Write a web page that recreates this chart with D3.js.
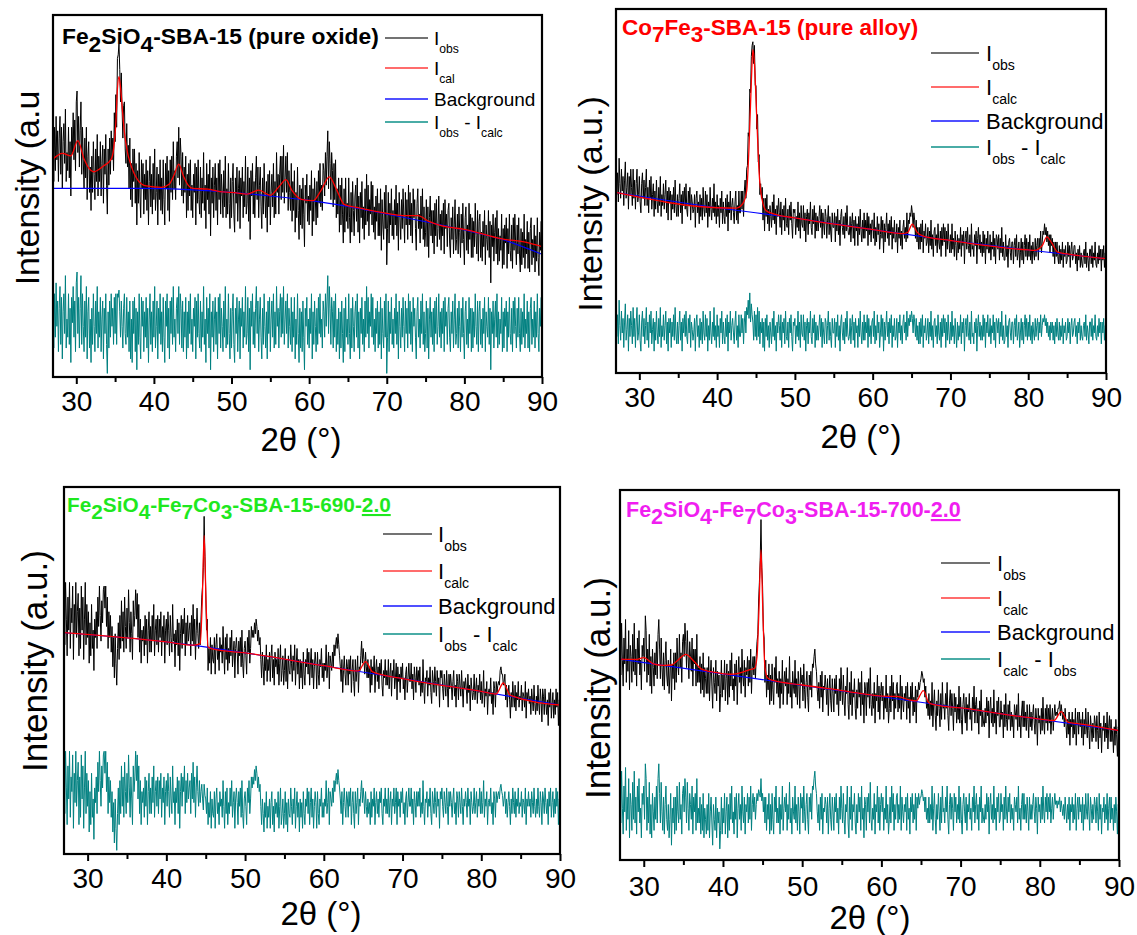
<!DOCTYPE html>
<html>
<head>
<meta charset="utf-8">
<script src="https://cdn.jsdelivr.net/npm/d3@7"></script>
<style>
  body { margin: 0; background: #fff; }
  svg { display: block; }
  text { font-family: "Liberation Sans", Arial, Helvetica, sans-serif; white-space: pre; }
</style>
</head>
<body>
<svg id="chart" width="1137" height="935"></svg>
<script>
// ---- shared axis data -------------------------------------------------
const twoThetaDomain = [27, 90];
const scanStart = 27;          // first 2θ of every scan
const scanStep = 0.1;          // 2θ step between scan points (one row below = 1°)
const xTicks = [30, 40, 50, 60, 70, 80, 90];
const xMinorTicks = [35, 45, 55, 65, 75, 85];

// ---- Fe2SiO4-SBA-15 (pure oxide) --------------------------------------
const oxideObs = [
63,54,69,57,72,60,68,54,66,72, 56,69,52,65,70,59,74,54,62,57,
69,55,65,50,69,62,73,60,71,57, 76,79,62,72,58,68,76,56,69,60,
52,66,55,69,49,61,65,51,58,46, 61,51,65,56,49,63,54,67,50,61,
54,65,50,59,64,48,63,56,67,53, 45,63,53,66,56,68,60,66,57,73,
65,78,69,88,89,92,85,76,84,74, 66,75,76,63,59,70,58,64,52,66,
49,59,47,63,54,63,48,59,42,57, 48,62,50,44,60,52,59,45,56,49,
60,46,57,42,54,61,47,56,45,59, 49,63,46,51,58,42,56,49,60,46,
55,45,60,49,42,59,52,61,46,57, 43,60,51,61,49,65,52,57,49,61,
65,55,69,53,66,61,50,62,48,58, 51,61,44,56,46,59,50,60,46,53,
44,56,51,59,42,58,48,60,49,45, 58,44,55,48,62,46,53,41,59,49,
56,45,60,39,55,48,58,44,53,59, 46,55,42,59,49,60,45,56,51,44,
57,47,61,44,52,45,59,48,41,55, 44,54,59,45,40,55,48,58,43,52,
57,41,55,50,58,44,54,47,61,45, 48,58,43,55,38,57,50,59,45,54,
44,55,61,49,58,44,53,58,47,41, 55,45,59,50,44,54,40,56,47,57,
42,51,56,47,59,44,54,45,62,51, 56,45,56,61,49,61,51,64,48,55,
61,51,62,46,57,51,46,59,43,54, 46,57,40,51,44,58,46,38,53,42,
52,41,55,45,36,53,48,56,43,50, 42,53,46,57,39,52,43,55,49,42,
54,44,57,48,59,47,53,46,59,57, 50,62,53,61,68,52,65,59,49,62,
57,47,59,49,60,44,52,45,55,40, 53,42,55,45,37,52,40,55,43,48,
41,55,44,37,51,40,54,46,39,50, 53,43,55,40,50,37,51,44,54,41,
47,38,52,42,56,43,53,39,49,45, 54,42,53,40,47,38,50,43,52,39,
48,39,52,35,49,42,38,51,41,53, 31,41,51,37,48,42,52,39,46,38,
49,42,53,39,48,35,51,44,38,49, 41,52,44,37,51,42,49,38,53,42,
51,39,48,37,52,44,49,41,35,48, 52,41,45,37,50,41,52,38,47,36,
40,49,36,47,33,44,50,39,46,37, 46,34,48,39,49,36,41,50,38,45,
35,46,39,48,34,49,41,45,36,46, 48,37,33,44,38,47,34,42,49,35,
38,45,34,47,40,33,45,37,48,38, 31,44,47,35,42,34,48,38,45,33,
44,33,43,36,48,39,34,46,32,43, 45,33,40,32,43,36,46,31,42,38,
35,46,33,43,26,42,36,45,32,40, 44,34,46,31,41,32,39,35,45,30,
41,31,42,37,44,30,41,34,45,35, 32,42,30,44,35,45,37,31,42,34,
44,34,29,41,31,40,33,45,30,38, 34,43,30,40,29,41,44,31,38,33,
42,29,39,32,44,33,28,40,35,43,
33
];
const oxideDiff = [
18,8,23,11,26,14,21,7,19,25, 9,22,5,18,23,12,28,8,16,11,
23,9,19,4,22,15,25,11,21,7, 26,29,12,22,8,19,28,9,23,14,
7,21,11,25,5,18,22,8,16,4, 19,9,23,14,7,21,12,25,8,18,
11,22,7,16,21,5,19,12,23,9, 1,18,8,21,11,23,14,19,9,22,
12,23,9,23,22,24,18,11,21,14, 8,19,23,12,9,22,11,18,7,21,
5,16,4,21,12,22,7,19,2,18, 9,23,11,5,22,14,21,7,18,11,
22,8,19,4,16,23,9,18,7,21, 11,25,8,14,21,5,19,12,23,9,
18,7,22,11,4,21,14,23,8,19, 5,21,12,22,9,25,11,16,7,19,
22,12,25,9,23,19,8,21,7,18, 11,22,5,18,8,21,12,23,9,16,
7,19,14,22,5,21,11,23,12,8, 21,7,18,11,25,9,16,4,22,12,
19,8,23,2,18,11,21,7,16,22, 9,18,5,22,12,23,8,19,14,7,
21,11,25,8,16,9,23,12,5,19, 8,18,23,9,4,19,12,22,7,16,
21,5,19,14,22,8,18,11,25,9, 12,22,7,19,2,21,14,23,9,18,
8,19,25,12,21,7,16,22,11,5, 19,9,23,14,8,18,5,21,12,22,
7,16,21,11,23,8,18,9,25,14, 19,8,18,23,11,22,12,25,9,16,
21,12,23,8,19,14,9,22,7,18, 11,22,5,16,9,23,12,4,19,8,
18,7,21,11,2,19,14,22,9,16, 8,19,12,23,5,18,9,21,14,7,
19,9,22,12,23,11,16,8,21,18, 11,23,14,21,28,12,25,19,9,22,
18,8,21,11,23,7,16,9,19,5, 18,8,21,12,4,19,7,22,11,16,
9,23,12,5,19,8,22,14,7,18, 21,11,23,8,18,5,19,12,22,9,
16,7,21,11,25,12,22,8,18,14, 23,11,22,9,16,7,19,12,21,8,
18,9,22,5,19,12,8,21,11,23, 1,11,21,7,18,12,22,9,16,8,
19,12,23,9,18,5,21,14,8,19, 11,22,14,7,21,12,19,8,23,12,
21,9,18,7,22,14,19,11,5,18, 22,11,16,8,21,12,23,9,18,7,
12,21,8,19,5,16,22,11,18,9, 19,7,21,12,22,9,14,23,11,18,
8,19,12,21,7,22,14,18,9,19, 22,11,7,18,12,21,8,16,23,9,
12,19,8,21,14,7,19,11,22,12, 5,18,21,9,16,8,22,12,19,7,
19,8,18,11,23,14,9,21,7,18, 21,9,16,8,19,12,22,7,18,14,
11,22,9,19,2,18,12,21,8,16, 21,11,23,8,18,9,16,12,22,7,
18,8,19,14,21,7,18,11,22,12, 9,19,7,21,12,22,14,8,19,11,
22,12,7,19,9,18,11,23,8,16, 12,21,8,18,7,19,22,9,16,11,
21,8,18,11,23,12,7,19,14,22,
12
];
const oxideCalcX = [27,28.2,29.3,30.2,31,32.2,33.5,34.5,34.8,35.1,35.3,35.5,35.7,35.9,36.2,36.6,37,38,39,41,
  42,42.6,43.2,43.8,44.4,45,47,48.5,50,52,53.5,55,56.2,57,57.8,59,60.5,61.5,62.6,63.5,
  64.5,66,70,72,74,75.5,77,80,85,88,90];
const oxideCalcY = [60.2,61.8,61.1,65.3,60.2,56.7,58.3,60.2,62.9,70.3,79.5,83.0,80.0,74.9,67.6,62.0,58.8,54.2,52.8,52.4,
  53.3,55.8,58.8,55.5,53.0,52.1,51.9,51.2,51.0,50.5,51.6,50.2,52.8,54.5,51.5,49.1,48.7,51.4,55.3,51.9,
  47.7,46.9,45.2,44.6,44.6,42.9,41.8,40.8,38.1,37.2,36.0];
const oxideBgX = [27,38,45,50,55,60,65,70,75,80,85,90];
const oxideBgY = [52.1,52.1,51.7,51.0,50.0,48.8,47.1,45.0,42.9,40.6,37.9,33.9];

// ---- Co7Fe3-SBA-15 (pure alloy) ---------------------------------------
const alloyObs = [
61,49,55,47,59,52,48,56,50,54, 46,53,58,48,51,55,45,54,49,56,
51,46,56,48,53,45,52,56,47,49, 54,47,44,52,55,48,53,46,51,56,
46,51,44,53,48,54,45,49,52,43, 50,45,53,47,44,51,46,54,43,49,
46,52,45,49,53,44,50,42,51,47, 50,42,49,45,51,44,53,46,43,49,
43,48,52,44,49,41,50,46,51,45, 52,45,43,50,46,51,42,49,47,44,
45,49,40,48,50,44,47,41,49,43, 48,42,51,45,43,50,44,49,40,47,
43,51,45,42,48,44,52,43,47,41, 49,43,46,40,48,44,50,41,47,43,
41,48,43,49,39,47,44,50,42,46, 48,44,41,47,50,42,46,41,50,44,
44,50,45,50,43,50,53,48,56,57, 66,65,78,77,87,90,91,85,90,79,
79,67,71,58,60,49,52,48,51,42, 48,39,48,43,49,41,45,39,46,43,
40,47,42,49,41,45,38,46,43,48, 44,40,47,38,45,42,46,39,48,41,
40,45,38,46,42,47,41,37,45,44, 45,38,43,40,47,39,44,37,46,41,
40,46,39,44,36,43,45,38,44,41, 47,40,38,45,41,46,37,44,39,43,
39,43,46,40,45,37,44,41,38,45, 43,37,42,46,38,43,39,36,44,40,
40,44,36,43,39,45,38,42,35,43, 45,40,38,43,37,44,39,46,40,38,
38,43,36,41,44,37,42,35,43,39, 41,35,43,38,45,39,36,42,37,44,
37,42,39,44,35,43,38,41,36,42, 42,37,44,35,40,36,43,38,41,34,
38,43,37,42,33,41,36,40,44,37, 41,35,42,38,43,34,40,37,42,36,
36,41,33,40,37,42,35,39,34,40, 42,37,40,36,44,37,42,41,44,43,
46,44,40,44,42,37,42,36,40,34, 40,34,41,36,42,33,39,37,41,35,
36,40,33,39,35,42,34,38,32,39, 40,35,38,33,41,36,34,39,32,40,
35,41,36,40,32,39,34,41,36,33, 38,33,41,34,37,32,39,35,31,38,
33,37,34,40,32,38,35,39,30,37, 39,34,40,35,33,38,32,41,34,35,
32,38,35,39,30,37,40,34,38,33, 36,32,39,33,38,30,37,34,39,33,
33,38,31,36,34,39,32,37,30,38, 37,34,38,31,37,33,40,32,36,31,
31,38,32,35,29,36,37,33,31,36, 36,30,35,37,32,38,31,33,36,29,
33,37,31,36,30,35,38,32,37,31, 36,32,38,31,35,30,36,33,31,37,
32,35,37,31,37,34,39,33,36,39, 38,41,38,40,36,39,35,38,33,38,
35,37,32,36,30,36,32,36,32,30, 35,30,34,31,36,29,34,32,35,30,
31,36,32,35,29,34,36,31,32,35, 35,30,33,28,34,31,35,29,33,30,
29,33,34,30,36,29,33,31,28,34, 34,30,35,29,33,31,36,30,29,33,
30,35,31,34,28,34,31,35,29,33,
31
];
const alloyDiff = [
22,10,16,8,20,13,9,17,11,15, 7,14,19,9,12,16,6,15,10,17,
13,8,18,10,15,7,14,18,9,11, 16,9,6,14,17,10,15,8,13,18,
9,14,7,16,11,17,8,12,15,6, 14,9,17,11,8,15,10,18,7,13,
10,16,9,13,17,8,14,6,15,11, 15,7,14,10,16,9,18,11,8,14,
8,13,17,9,14,6,15,11,16,10, 17,10,8,15,11,16,7,14,12,9,
11,15,6,14,16,10,13,7,15,9, 14,8,17,11,9,16,10,15,6,13,
9,17,11,8,14,10,18,9,13,7, 16,10,13,7,15,11,17,8,14,10,
8,15,10,16,6,14,11,17,9,13, 15,11,8,14,17,9,13,7,16,10,
10,16,11,15,8,14,17,11,18,16, 20,15,22,14,19,16,14,9,17,10,
16,9,18,10,17,8,14,11,15,7, 14,6,15,10,16,9,13,7,14,11,
8,15,10,17,9,13,6,14,11,16, 13,9,16,7,14,11,15,8,17,10,
9,14,7,15,11,16,10,6,14,13, 15,8,13,10,17,9,14,7,16,11,
10,16,9,14,6,13,15,8,14,11, 17,10,8,15,11,16,7,14,9,13,
9,13,16,10,15,7,14,11,8,15, 14,8,13,17,9,14,10,7,15,11,
11,15,7,14,10,16,9,13,6,14, 16,11,9,14,8,15,10,17,11,9,
10,15,8,13,16,9,14,7,15,11, 13,7,15,10,17,11,8,14,9,16,
9,14,11,16,7,15,10,13,8,14, 15,10,17,8,13,9,16,11,14,7,
11,16,10,15,6,14,9,13,17,10, 14,8,15,11,16,7,13,10,15,9,
10,15,7,14,11,16,9,13,8,14, 16,11,14,9,17,10,15,13,16,14,
17,15,11,16,14,10,15,9,13,8, 14,8,15,10,16,7,13,11,15,9,
11,15,8,14,10,17,9,13,7,14, 15,10,13,8,16,11,9,14,7,15,
10,16,11,15,7,14,9,16,11,8, 14,9,17,10,13,8,15,11,7,14,
9,13,10,16,8,14,11,15,6,13, 15,10,16,11,9,14,8,17,10,11,
8,14,11,15,6,13,16,10,14,9, 13,9,16,10,15,7,14,11,16,10,
10,15,8,13,11,16,9,14,7,15, 14,11,15,8,14,10,17,9,13,8,
9,16,10,13,7,14,15,11,9,14, 14,8,13,15,10,16,9,11,14,7,
11,15,9,14,8,13,16,10,15,9, 14,10,16,9,13,8,14,11,9,15,
10,13,15,9,14,11,16,10,13,15, 14,16,13,15,11,14,10,13,9,14,
11,14,9,13,8,14,10,15,11,9, 14,9,13,10,15,8,13,11,14,9,
10,15,11,14,8,13,15,10,11,14, 15,10,13,8,14,11,15,9,13,10,
9,13,14,10,16,9,13,11,8,14, 14,10,15,9,13,11,16,10,9,13,
10,15,11,14,8,14,11,15,9,13,
12
];
const alloyCalcX = [27,40,42.5,43.3,43.8,44.1,44.4,44.6,44.8,45.1,45.4,45.8,46.3,47.5,50,60,63.8,64.5,65.1,65.7,
  66.5,70,80,80.8,81.8,82.4,83.0,83.8,85,90];
const alloyCalcY = [49.6,45.4,45.3,46.5,50.0,62.0,80.0,88.8,85.0,70.0,55.0,47.5,44.6,43.6,42.6,39.4,38.3,38.6,40.9,38.7,
  37.6,36.4,33.8,33.7,35.0,37.4,35.8,33.2,32.7,31.4];
const alloyBgX = [27,40,50,60,70,80,90];
const alloyBgY = [49.6,45.4,42.6,39.4,36.4,33.8,31.4];

// ---- Fe2SiO4-Fe7Co3-SBA-15-690-2.0 -------------------------------------
const s690Obs = [
71,57,74,64,54,70,61,74,56,67, 63,73,53,68,60,74,59,66,71,54,
67,56,73,61,70,53,64,74,57,68, 59,66,52,63,54,68,56,61,50,64,
59,66,56,70,62,73,65,58,69,63, 72,73,67,73,62,70,56,66,59,65,
55,62,51,59,48,60,52,46,56,63, 53,65,56,69,58,66,55,70,62,56,
67,59,72,63,55,66,60,53,69,62, 65,72,64,71,59,68,55,64,52,61,
58,62,54,65,57,64,52,61,66,55, 62,55,65,58,68,54,61,64,57,65,
55,64,59,66,54,62,58,65,52,61, 64,57,66,61,54,65,59,55,68,58,
60,51,61,57,64,54,63,50,60,65, 56,64,60,67,54,63,57,65,58,61,
63,54,65,58,68,57,64,53,61,67, 60,56,63,57,64,70,73,78,92,81,
72,61,64,50,56,52,59,49,57,53, 52,59,49,57,60,53,56,50,59,55,
57,52,62,55,49,59,53,60,50,56, 52,59,54,61,51,55,58,48,56,59,
55,49,58,54,59,51,61,52,48,56, 58,54,49,59,55,61,52,56,62,59,
61,59,63,60,64,62,58,61,57,59, 53,48,55,51,46,54,50,57,47,53,
50,55,47,54,57,48,53,46,55,51, 53,49,56,46,52,57,47,50,54,46,
50,56,47,53,45,54,50,49,57,52, 47,54,50,57,46,52,56,49,53,45,
53,48,52,45,55,49,46,53,51,56, 49,55,46,52,56,48,53,45,51,55,
52,45,55,49,46,53,51,56,48,52, 47,52,50,57,48,51,55,45,54,52,
50,55,51,57,54,57,59,56,60,57, 54,51,47,53,44,50,54,49,46,53,
51,46,53,49,54,44,50,53,47,43, 53,47,50,54,44,51,50,54,58,52,
56,53,49,55,51,48,53,48,51,44, 53,46,51,49,54,44,50,53,47,51,
45,52,49,53,46,43,50,48,53,46, 50,46,53,45,49,52,43,50,48,53,
45,48,52,42,51,47,49,44,51,48, 52,45,48,42,49,51,44,48,52,47,
47,52,45,49,42,51,48,44,51,47, 50,46,51,43,47,44,53,46,41,48,
47,50,43,48,46,51,44,41,50,47, 44,51,47,43,50,46,48,40,50,48,
50,45,42,49,46,43,50,45,40,49, 45,49,46,42,47,50,43,46,40,49,
47,42,49,46,43,50,45,40,47,45, 48,45,41,49,44,46,39,48,45,42,
44,49,42,45,48,41,46,44,49,42, 47,41,44,50,40,45,43,47,38,44,
45,43,48,41,44,38,47,45,40,47, 44,46,47,46,50,51,49,49,46,47,
49,42,46,40,44,46,42,37,44,40, 47,43,40,46,39,44,42,47,40,43,
42,46,39,44,43,40,47,37,44,42, 45,41,43,38,45,42,39,46,41,38,
43,39,46,41,38,45,42,36,45,43, 38,45,41,38,42,35,44,40,45,37,
41,44,37,42,38,45,40,44,35,42,
41
];
const s690Diff = [
25,11,28,18,8,24,15,28,10,21, 17,27,7,22,14,28,13,20,25,8,
21,10,27,15,24,7,18,28,11,22, 13,20,6,17,8,22,10,15,4,18,
14,21,11,25,17,28,20,13,24,18, 27,28,22,28,17,25,11,21,14,20,
10,17,6,14,3,15,7,1,11,18, 8,20,11,24,13,21,10,25,17,11,
22,14,27,18,10,21,15,8,24,17, 21,28,20,27,15,24,11,20,8,17,
14,18,10,21,13,20,8,17,22,11, 18,11,21,14,24,10,17,20,13,21,
11,20,15,22,10,18,14,21,8,17, 20,13,22,17,10,21,15,11,24,14,
17,8,18,14,21,11,20,7,17,22, 13,21,17,24,11,20,14,22,15,18,
20,11,22,15,25,14,21,10,18,24, 17,13,20,14,17,19,15,12,19,16,
15,11,18,8,14,10,17,7,15,11, 10,17,7,15,18,11,14,8,17,13,
15,10,20,13,7,17,11,18,8,14, 11,18,13,20,10,14,17,7,15,18,
14,8,17,13,18,10,20,11,7,15, 17,13,8,18,14,20,11,15,21,18,
21,19,23,20,24,22,18,21,17,19, 13,8,15,11,6,14,10,17,7,13,
10,15,7,14,17,8,13,6,15,11, 14,10,17,7,13,18,8,11,15,7,
11,17,8,14,6,15,11,10,18,13, 8,15,11,18,7,13,17,10,14,6,
15,10,14,7,17,11,8,15,13,18, 11,17,8,14,18,10,15,7,13,17,
14,7,17,11,8,15,13,18,10,14, 10,15,13,20,11,14,18,8,17,15,
13,18,14,20,17,20,22,19,23,20, 18,15,11,17,8,14,18,13,10,17,
15,10,17,13,18,8,14,17,11,7, 17,11,14,18,8,15,13,17,20,14,
18,15,11,17,13,10,15,11,14,8, 17,10,15,13,18,8,14,17,11,15,
10,17,14,18,11,8,15,13,18,11, 15,11,18,10,14,17,8,15,13,18,
11,14,18,8,17,13,15,10,17,14, 18,11,14,8,15,17,10,14,18,13,
13,18,11,15,8,17,14,10,17,13, 17,13,18,10,14,11,20,13,8,15,
14,17,10,15,13,18,11,8,17,14, 11,18,14,10,17,13,15,7,17,15,
18,13,10,17,14,11,18,13,8,17, 13,17,14,10,15,18,11,14,8,17,
15,10,17,14,11,18,13,8,15,13, 17,14,10,18,13,15,8,17,14,11,
13,18,11,14,17,10,15,13,18,11, 17,11,14,20,10,15,13,17,8,14,
15,13,18,11,14,8,17,15,10,17, 14,16,17,15,18,19,17,16,13,15,
17,11,15,10,14,17,13,8,15,11, 18,14,11,17,10,15,13,18,11,14,
13,17,10,15,14,11,18,8,15,13, 17,13,15,10,17,14,11,18,13,10,
15,11,18,13,10,17,14,8,17,15, 11,18,14,11,15,8,17,13,18,10,
14,17,10,15,11,18,13,17,8,15,
14
];
const s690CalcX = [27,40,43.5,44.3,44.55,44.8,45.05,45.3,46,50,60,64.4,65.3,66.2,70,80,81.9,82.8,83.7,90];
const s690CalcY = [60.3,57.8,56.9,57.3,68,86.8,68,56.4,55.8,54.8,51.3,49.9,52.4,49.6,47.8,44.3,43.6,46.6,43.2,40.6];
const s690BgX = [27,40,50,60,70,80,90];
const s690BgY = [60.3,57.8,54.8,51.3,47.8,44.3,40.6];

// ---- Fe2SiO4-Fe7Co3-SBA-15-700-2.0 -------------------------------------
const s700Obs = [
61,50,64,54,47,60,53,65,48,57, 51,62,46,58,55,48,61,51,64,50,
57,47,60,53,62,50,54,46,58,55, 60,51,66,62,48,57,50,61,47,55,
45,57,52,47,56,50,59,49,61,65, 57,49,60,52,47,56,46,54,59,50,
47,54,45,50,57,43,53,49,56,46, 56,48,60,53,50,61,52,56,48,59,
61,55,64,59,52,62,55,49,59,55, 51,60,47,57,53,57,47,61,48,52,
48,55,45,53,46,56,44,52,49,45, 52,45,55,43,50,54,47,41,52,48,
45,54,43,51,47,50,40,45,54,44, 50,46,54,43,49,53,42,51,44,54,
47,56,46,49,43,53,47,54,42,50, 55,48,52,45,57,50,47,54,44,52,
50,55,47,54,48,57,45,52,55,50, 55,49,55,59,61,70,75,81,92,79,
74,62,60,48,54,44,50,46,53,42, 50,43,53,46,42,52,48,55,45,49,
44,51,41,49,45,54,42,48,51,47, 52,42,49,45,55,44,48,41,51,47,
45,54,44,49,42,51,47,41,52,48, 50,43,53,46,41,48,51,44,40,50,
46,51,44,53,52,55,57,53,51,46, 43,48,41,50,44,51,40,47,46,50,
47,42,49,39,46,50,43,40,49,45, 40,49,45,50,42,46,39,49,43,52,
46,42,50,43,39,47,45,52,42,38, 48,42,51,39,46,44,49,41,38,46,
41,49,44,48,39,51,42,45,37,48, 46,39,48,44,49,41,52,42,39,45,
41,48,37,45,43,50,40,47,38,45, 48,43,47,38,44,41,50,40,45,37,
41,47,40,50,43,48,38,45,41,47, 48,40,45,41,50,38,47,43,40,45,
43,47,38,48,41,44,37,47,43,48, 39,44,40,47,37,46,44,48,46,48,
49,51,50,48,49,44,47,41,43,39, 45,38,43,39,48,36,42,46,39,35,
43,39,46,41,36,45,38,48,41,42, 38,45,41,48,39,35,43,46,39,45,
41,35,45,40,44,37,42,38,47,37, 44,38,34,42,45,40,37,44,35,42,
40,45,38,41,35,44,40,47,37,42, 44,37,41,34,43,39,46,36,40,37,
36,41,37,44,39,43,33,41,44,37, 41,36,46,37,40,34,43,39,44,36,
36,43,38,40,33,42,36,45,38,35, 42,38,43,35,40,36,39,33,42,40,
38,42,35,45,36,39,33,40,43,36, 43,36,40,35,42,38,33,42,36,40,
35,39,42,37,34,41,38,31,41,37, 39,34,41,35,44,37,34,41,37,42,
35,41,37,42,34,38,41,35,39,42, 39,40,39,41,41,43,39,42,40,38,
40,36,41,37,33,38,34,40,31,38, 36,40,33,38,34,41,31,37,40,34,
40,36,38,33,40,31,38,34,41,36, 33,40,35,30,39,36,32,37,33,39,
37,32,39,35,30,40,33,37,29,36, 35,39,32,37,33,40,30,36,39,32,
38,32,35,29,36,31,38,34,28,36,
35
];
const s700Diff = [
21,10,24,14,7,20,13,25,8,17, 11,22,6,18,15,8,21,11,24,10,
17,7,20,13,22,10,14,6,18,15, 20,11,26,22,8,17,10,21,7,15,
6,18,13,8,17,11,20,10,22,26, 18,10,21,13,8,17,7,15,20,11,
8,15,6,11,18,4,14,10,17,7, 17,8,20,13,10,21,11,15,7,18,
20,13,22,17,10,21,14,8,18,15, 11,20,7,17,13,18,8,22,10,14,
10,17,7,15,8,18,6,14,11,7, 15,8,18,6,13,17,10,4,15,11,
8,17,6,14,10,13,3,8,17,7, 14,10,18,7,13,17,6,15,8,18,
11,20,10,13,7,17,11,18,6,14, 18,11,15,8,20,13,10,17,7,15,
13,18,10,17,11,20,8,15,18,13, 17,11,15,18,16,19,18,17,22,16,
18,13,17,10,17,8,15,11,18,7, 15,8,18,11,7,17,13,20,10,14,
10,17,7,15,11,20,8,14,17,13, 18,8,15,11,21,10,14,7,17,13,
11,20,10,15,8,17,13,7,18,14, 17,10,20,13,8,15,18,11,7,17,
13,18,11,20,19,22,24,20,18,13, 10,15,8,17,11,18,7,14,13,17,
15,10,17,7,14,18,11,8,17,13, 8,17,13,18,10,14,7,17,11,20,
14,10,18,11,7,15,13,20,10,6, 17,11,20,8,15,13,18,10,7,15,
10,18,13,17,8,20,11,14,6,17, 15,8,17,13,18,10,21,11,8,14,
11,18,7,15,13,20,10,17,8,15, 18,13,17,8,14,11,20,10,15,7,
11,17,10,20,13,18,8,15,11,17, 18,10,15,11,20,8,17,13,10,15,
13,17,8,18,11,14,7,17,13,18, 10,15,11,18,8,17,14,18,15,17,
17,19,18,16,17,13,17,11,14,10, 17,10,15,11,20,8,14,18,11,7,
15,11,18,13,8,17,10,20,13,14, 10,17,13,20,11,7,15,18,11,17,
14,8,18,13,17,10,15,11,20,10, 17,11,7,15,18,13,10,17,8,15,
13,18,11,14,8,17,13,20,10,15, 18,11,15,8,17,13,20,10,14,11,
10,15,11,18,13,17,7,15,18,11, 15,10,20,11,14,8,17,13,18,10,
11,18,13,15,8,17,11,20,13,10, 17,13,18,10,15,11,14,8,17,15,
13,17,10,20,11,14,8,15,18,11, 18,11,15,10,17,13,8,17,11,15,
11,15,18,13,10,17,14,7,17,13, 15,10,17,11,20,13,10,17,13,18,
11,17,13,18,10,14,17,11,15,18, 15,16,14,16,15,17,13,16,14,12,
15,11,17,13,10,15,11,17,8,15, 13,17,10,15,11,18,8,14,17,11,
17,13,15,10,17,8,15,11,18,13, 11,18,13,8,17,14,10,15,11,17,
15,10,17,13,8,18,11,15,7,14, 13,17,10,15,11,18,8,14,17,10,
17,11,14,8,15,10,17,13,7,15,
14
];
const s700CalcX = [27,29,30,31.2,32.5,33.5,34.3,35.3,36.3,37.3,39,41,42.5,43.3,44.0,44.3,44.55,44.8,45.05,45.3,
  45.6,46.2,50,55,60,62,63.5,64.4,65.3,66.0,66.8,70,80,81.8,82.7,83.6,85,90];
const s700CalcY = [54.3,54.2,54.7,53.0,52.6,52.7,54.0,55.6,53.8,51.6,50.7,50.2,50.8,51.4,51.8,55,68,83.8,66,52,
  49.3,48.6,47.3,45.8,44.3,44.2,43.3,43.0,45.8,42.5,41.9,41.1,38.1,37.7,40.1,37.2,36.8,35.0];
const s700BgX = [27,50,70,90];
const s700BgY = [54.3,47.2,41.1,35.0];

// ---- titles and legend labels ([text, 0 normal | 1 subscript | 2 underlined]) ----
const oxideTitle = [["Fe",0],["2",1],["SiO",0],["4",1],["-SBA-15 (pure oxide)",0]];
const alloyTitle = [["Co",0],["7",1],["Fe",0],["3",1],["-SBA-15 (pure alloy)",0]];
const s690Title = [["Fe",0],["2",1],["SiO",0],["4",1],["-Fe",0],["7",1],["Co",0],["3",1],["-SBA-15-690-",0],["2.0",2]];
const s700Title = [["Fe",0],["2",1],["SiO",0],["4",1],["-Fe",0],["7",1],["Co",0],["3",1],["-SBA-15-700-",0],["2.0",2]];

const legendOxide = [[["I",0],["obs",1]], [["I",0],["cal",1]], [["Background",0]], [["I",0],["obs",1],[" - I",0],["calc",1]]];
const legendStd   = [[["I",0],["obs",1]], [["I",0],["calc",1]], [["Background",0]], [["I",0],["obs",1],[" - I",0],["calc",1]]];
const legend700   = [[["I",0],["obs",1]], [["I",0],["calc",1]], [["Background",0]], [["I",0],["calc",1],[" - I",0],["obs",1]]];

// ---- page layout ----------------------------------------------------------
const panels = [
  { id: "oxide", obs: oxideObs, diff: oxideDiff, calcX: oxideCalcX, calcY: oxideCalcY, bgX: oxideBgX, bgY: oxideBgY,
    box: [53, 542, 15, 377], tickBase: 34,
    title: oxideTitle, titleColor: "#000", titleSize: 22.8, titlePos: [62, 44],
    yLabel: "Intensity (a.u", yLabelPos: [27, 188], yLabelSize: 34,
    xLabelPos: [301, 451],
    legend: legendOxide, legendLine: [385, 428], legendTextX: 434, legendRows: [38, 68, 99, 122], legendSize: 19 },
  { id: "alloy", obs: alloyObs, diff: alloyDiff, calcX: alloyCalcX, calcY: alloyCalcY, bgX: alloyBgX, bgY: alloyBgY,
    box: [616, 1106, 9, 373], tickBase: 34,
    title: alloyTitle, titleColor: "#ff0000", titleSize: 22.5, titlePos: [622, 35],
    yLabel: "Intensity (a.u.)", yLabelPos: [590, 204], yLabelSize: 34,
    xLabelPos: [861, 448],
    legend: legendStd, legendLine: [931, 979], legendTextX: 986, legendRows: [53, 87, 121, 147], legendSize: 22 },
  { id: "s690", obs: s690Obs, diff: s690Diff, calcX: s690CalcX, calcY: s690CalcY, bgX: s690BgX, bgY: s690BgY,
    box: [64, 560, 487, 854], tickBase: 34,
    title: s690Title, titleColor: "#1ee81e", titleSize: 20.8, titlePos: [67, 512],
    yLabel: "Intensity (a.u.)", yLabelPos: [34, 661], yLabelSize: 35,
    xLabelPos: [321, 925],
    legend: legendStd, legendLine: [383, 432], legendTextX: 438, legendRows: [534, 571, 606, 634], legendSize: 22 },
  { id: "s700", obs: s700Obs, diff: s700Diff, calcX: s700CalcX, calcY: s700CalcY, bgX: s700BgX, bgY: s700BgY,
    box: [620, 1119, 490, 860], tickBase: 36,
    title: s700Title, titleColor: "#f01ef0", titleSize: 21.5, titlePos: [626, 517],
    yLabel: "Intensity (a.u.)", yLabelPos: [597, 688], yLabelSize: 35,
    xLabelPos: [870, 929],
    legend: legend700, legendLine: [941, 990], legendTextX: 997, legendRows: [563, 598, 632, 659], legendSize: 22 }
];

const seriesStyle = {
  obs:  { color: "#000000", width: 1 },
  calc: { color: "#ff0000", width: 1.3 },
  bg:   { color: "#0000ff", width: 1.1 },
  diff: { color: "#008080", width: 1 }
};
const legendStyle = [
  { color: "#444444", width: 1.4 },
  { color: "#ff3b3b", width: 1.5 },
  { color: "#5050ff", width: 1.8 },
  { color: "#4aaca6", width: 1.8 }
];

const svg = d3.select("#chart");
svg.append("rect").attr("width", 1137).attr("height", 935).attr("fill", "#fff");

// writes a run of [text, kind] pieces as tspans (subscripts shifted down)
function writeRuns(textSel, runs, size, subSize, subShift) {
  let lowered = false;
  runs.forEach(([t, kind]) => {
    const sub = kind === 1;
    const ts = textSel.append("tspan").text(t).attr("font-size", sub ? subSize : size);
    if (sub && !lowered) { ts.attr("dy", subShift); lowered = true; }
    else if (!sub && lowered) { ts.attr("dy", -subShift); lowered = false; }
    if (kind === 2) ts.attr("text-decoration", "underline");
  });
}

function drawPanel(p) {
  const [x0, x1, y0, y1] = p.box;
  const x = d3.scaleLinear().domain(twoThetaDomain).range([x0, x1]);
  const y = d3.scaleLinear().domain([0, 100]).range([y1, y0]);
  const g = svg.append("g").attr("class", "panel-" + p.id);

  const clipId = "clip-" + p.id;
  g.append("clipPath").attr("id", clipId)
    .append("rect").attr("x", x0).attr("y", y0).attr("width", x1 - x0).attr("height", y1 - y0);
  const plot = g.append("g").attr("clip-path", `url(#${clipId})`);

  const scanLine = d3.line().x((d, i) => x(scanStart + i * scanStep)).y(d => y(d));
  const smoothLine = d3.line().x(d => x(d[0])).y(d => y(d[1])).curve(d3.curveMonotoneX);

  const addPath = (d, st) => plot.append("path").attr("d", d).attr("fill", "none")
    .attr("stroke", st.color).attr("stroke-width", st.width).attr("stroke-linejoin", "round");

  addPath(scanLine(p.obs), seriesStyle.obs);
  addPath(smoothLine(d3.zip(p.bgX, p.bgY)), seriesStyle.bg);
  addPath(smoothLine(d3.zip(p.calcX, p.calcY)), seriesStyle.calc);
  addPath(scanLine(p.diff), seriesStyle.diff);

  // bottom axis: major ticks with labels, minor ticks without
  const major = g.append("g").attr("transform", `translate(0,${y1})`)
    .call(d3.axisBottom(x).tickValues(xTicks).tickSize(7).tickSizeOuter(0).tickFormat(d3.format("d")));
  const minor = g.append("g").attr("transform", `translate(0,${y1})`)
    .call(d3.axisBottom(x).tickValues(xMinorTicks).tickSize(5).tickSizeOuter(0).tickFormat(""));
  [major, minor].forEach(a => {
    a.attr("font-family", null).attr("font-size", null);
    a.select(".domain").remove();
    a.selectAll(".tick line").attr("stroke", "#000").attr("stroke-width", 2);
  });
  major.selectAll(".tick text").attr("y", p.tickBase).attr("dy", null)
    .attr("fill", "#000").attr("font-size", 28);

  // frame
  g.append("rect").attr("x", x0).attr("y", y0).attr("width", x1 - x0).attr("height", y1 - y0)
    .attr("fill", "none").attr("stroke", "#000").attr("stroke-width", 2.2);

  // axis titles
  g.append("text").attr("x", p.xLabelPos[0]).attr("y", p.xLabelPos[1])
    .attr("text-anchor", "middle").attr("font-size", 33).text("2θ (°)");
  g.append("text")
    .attr("transform", `translate(${p.yLabelPos[0]},${p.yLabelPos[1]}) rotate(-90)`)
    .attr("text-anchor", "middle").attr("dominant-baseline", "central")
    .attr("font-size", p.yLabelSize).text(p.yLabel);

  // sample title
  const title = g.append("text").attr("x", p.titlePos[0]).attr("y", p.titlePos[1])
    .attr("font-weight", "bold").attr("fill", p.titleColor);
  writeRuns(title, p.title, p.titleSize, p.titleSize, p.titleSize * 0.33);

  // legend
  p.legend.forEach((runs, i) => {
    const ly = p.legendRows[i];
    const st = legendStyle[i];
    g.append("line").attr("x1", p.legendLine[0]).attr("x2", p.legendLine[1])
      .attr("y1", ly).attr("y2", ly).attr("stroke", st.color).attr("stroke-width", st.width);
    const t = g.append("text").attr("x", p.legendTextX).attr("y", ly + p.legendSize * 0.36);
    writeRuns(t, runs, p.legendSize, p.legendSize * 0.64, p.legendSize * 0.42);
  });
}

panels.forEach(drawPanel);
</script>
</body>
</html>
